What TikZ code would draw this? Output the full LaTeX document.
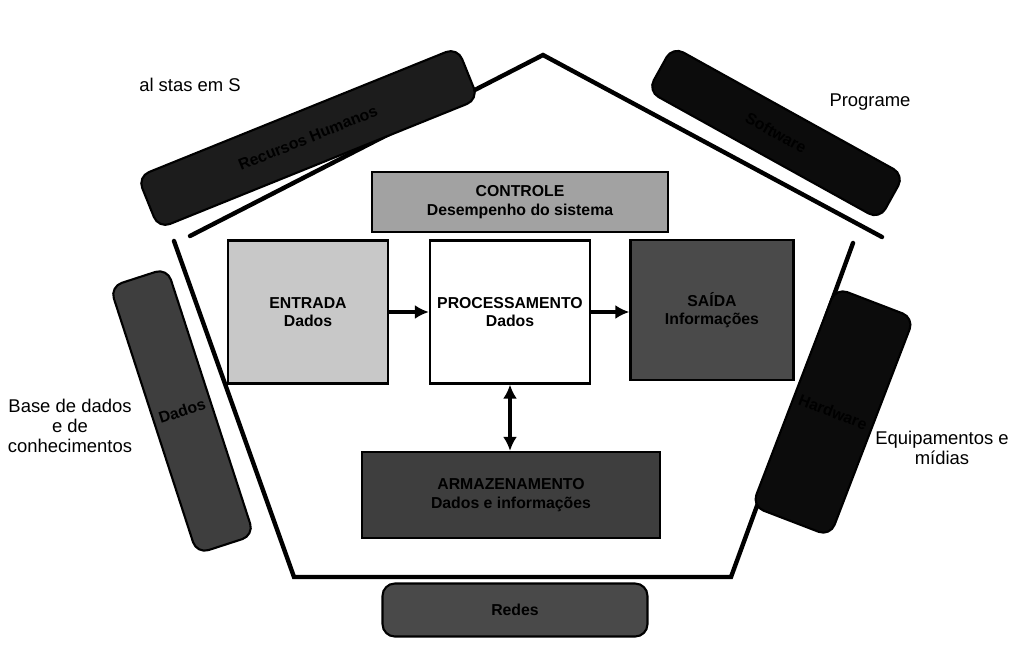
\documentclass[tikz,border=0pt]{standalone}
\usepackage{fontspec}
\setmainfont{Liberation Sans}
\usetikzlibrary{arrows.meta,positioning}
\definecolor{escuro}{HTML}{1C1C1C}
\definecolor{quasepreto}{HTML}{0C0C0C}
\definecolor{cinzaesc}{HTML}{3E3E3E}
\definecolor{cinzamed}{HTML}{4A4A4A}
\definecolor{cinzacla}{HTML}{A2A2A2}
\definecolor{cinzaent}{HTML}{C8C8C8}
\tikzset
{
  recurso/.style={draw=black,line width=1.2pt,rounded corners=7pt,font=\bfseries\fontsize{9}{10}\selectfont,text=black,align=center},
  etapa/.style={draw=black,line width=1.3pt,font=\bfseries\fontsize{9}{10.5}\selectfont,align=center},
  rotulo/.style={font=\fontsize{10.5}{11.5}\selectfont,align=center},
  borda/.style={line width=2.5pt,line cap=round},
  fluxo/.style={line width=1.8pt,-{Latex[length=8pt,width=8pt]}}
}
\begin{document}
\begin{tikzpicture}[x=0.02cm,y=-0.02cm]
        \useasboundingbox[fill=white] (0,0) rectangle (1010,652);

        % Pentagono
        \coordinate (topo) at (543,55);
        \coordinate (ce) at (190,236);
        \coordinate (cd) at (882,237);
        \coordinate (le) at (174,241);
        \coordinate (ie) at (294,577);
        \coordinate (id) at (731,577);
        \coordinate (ld) at (853,243);
        \draw[borda] (ce) -- (topo) -- (cd);
        \draw[borda] (le) -- (ie) -- (id) -- (ld);

        % Recursos em volta
        \node[recurso,fill=escuro,minimum width=6.9cm,minimum height=1.12cm,rotate=22] (humanos) at (308,138) {Recursos Humanos};
        \node[recurso,fill=quasepreto,minimum width=5.3cm,minimum height=1.02cm,rotate=-29] (software) at (776,133) {Software};
        \node[recurso,fill=cinzaesc,minimum width=1.18cm,minimum height=5.62cm,rotate=18] (dados) at (182,411) {Dados};
        \node[recurso,fill=quasepreto,minimum width=1.08cm,minimum height=4.68cm,rotate=-21] (hardware) at (833,412) {Hardware};
        \node[recurso,fill=escuro!80!white,minimum width=5.3cm,minimum height=1.06cm] (redes) at (515,610) {Redes};

        % Rotulos externos
        \node[rotulo] (especialistas) at (190,85) {al stas em S};
        \node[rotulo] (programas) at (870,102) {Programe};
        \node[rotulo] (bases) at (70,426) {Base de dados\\e de\\conhecimentos};
        \node[rotulo] (equip) at (942,448) {Equipamentos e\\mídias};

        % Etapas do sistema
        \node[etapa,fill=cinzacla,minimum width=5.92cm,minimum height=1.2cm] (controle) at (520,202) {CONTROLE\\Desempenho do sistema};
        \node[etapa,fill=cinzaent,minimum width=3.2cm,minimum height=2.86cm] (entrada) at (308,312) {ENTRADA\\Dados};
        \node[etapa,fill=white,minimum width=3.2cm,minimum height=2.86cm] (proc) at (510,312) {PROCESSAMENTO\\Dados};
        \node[etapa,fill=cinzamed,minimum width=3.26cm,minimum height=2.8cm] (saida) at (712,310) {SAÍDA\\Informações};
        \node[etapa,fill=cinzaesc,minimum width=5.96cm,minimum height=1.72cm] (armaz) at (511,495) {ARMAZENAMENTO\\Dados e informações};

        % Fluxos
        \draw[fluxo] (entrada.east |- proc.west) -- (proc.west);
        \draw[fluxo] (proc.east) -- (proc.east -| saida.west);
        \draw[fluxo,{Latex[length=8pt,width=8pt]}-{Latex[length=8pt,width=8pt]}] (proc.south) -- (armaz.north -| proc.south);
    \end{tikzpicture}
\end{document}
